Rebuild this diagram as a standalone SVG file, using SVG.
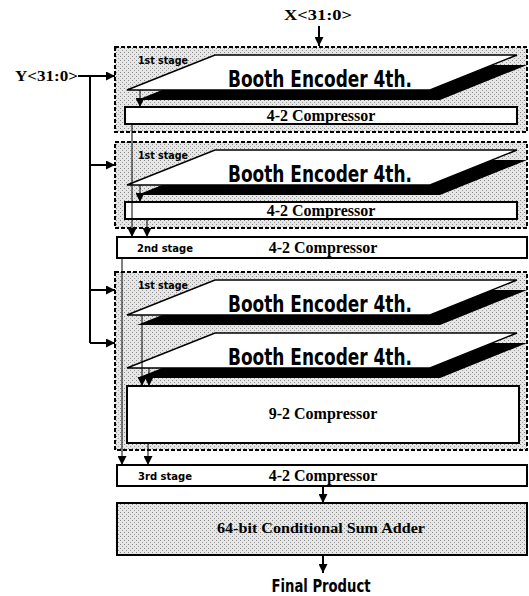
<svg xmlns="http://www.w3.org/2000/svg" width="529" height="596" viewBox="0 0 529 596">
<style>
.dash{fill:url(#stip);stroke:#000;stroke-width:2;stroke-dasharray:4 2}
.box{fill:#fff;stroke:#000;stroke-width:2}
.enc{fill:#fff;stroke:#000;stroke-width:1.5}
.shadow{fill:#000}
.ser{font-family:"Liberation Serif","Times New Roman",serif;font-weight:bold;fill:#000}
.cond{font-family:"Liberation Sans Narrow","DejaVu Sans Condensed","Liberation Sans",sans-serif;font-weight:bold;fill:#000}
.wire{fill:none;stroke:#000;stroke-width:2}
.thin{fill:none;stroke:#000;stroke-width:1}
</style>
<defs>
<pattern id="stip" width="4" height="4" patternUnits="userSpaceOnUse">
<rect width="4" height="4" fill="#e6e6e6"/>
<rect x="0" y="0" width="1" height="1" fill="#8a8a8a"/>
<rect x="2" y="2" width="1" height="1" fill="#a0a0a0"/>
</pattern>
<marker id="ah" viewBox="0 0 10 10" refX="10" refY="5" markerWidth="9" markerHeight="9" markerUnits="userSpaceOnUse" orient="auto">
<path d="M0,0 L10,5 L0,10 z" fill="#000"/>
</marker>
</defs>
<rect width="529" height="596" fill="#fff"/>

<g id="stage1a">
<rect class="dash" x="115" y="47" width="412" height="85"/>
<text class="cond" x="138" y="64" font-size="10" textLength="50" lengthAdjust="spacingAndGlyphs">1st stage</text>
<polygon class="shadow" points="225,65 527,65 440,100 137,100"/>
<polygon class="enc" points="215,55 517,55 430,90 127,90"/>
<text class="cond" x="228" y="87" font-size="23" textLength="184" lengthAdjust="spacingAndGlyphs">Booth Encoder 4th.</text>
<rect class="box" x="125" y="107" width="392" height="17"/>
<text class="ser" x="321" y="121" font-size="16" text-anchor="middle">4-2 Compressor</text>
</g>

<g id="stage1b">
<rect class="dash" x="115" y="142" width="412" height="86"/>
<text class="cond" x="138" y="159" font-size="10" textLength="50" lengthAdjust="spacingAndGlyphs">1st stage</text>
<polygon class="shadow" points="225,160 527,160 440,195 137,195"/>
<polygon class="enc" points="215,150 517,150 430,185 127,185"/>
<text class="cond" x="228" y="182" font-size="23" textLength="184" lengthAdjust="spacingAndGlyphs">Booth Encoder 4th.</text>
<rect class="box" x="125" y="202" width="392" height="17"/>
<text class="ser" x="321" y="216" font-size="16" text-anchor="middle">4-2 Compressor</text>
</g>

<g id="stage2">
<rect class="box" x="117" y="237" width="410" height="21"/>
<text class="cond" x="137" y="252" font-size="10" textLength="56" lengthAdjust="spacingAndGlyphs">2nd stage</text>
<text class="ser" x="323" y="253" font-size="16" text-anchor="middle">4-2 Compressor</text>
</g>

<g id="stage1c">
<rect class="dash" x="115" y="272" width="412" height="178"/>
<text class="cond" x="138" y="289" font-size="10" textLength="50" lengthAdjust="spacingAndGlyphs">1st stage</text>
<polygon class="shadow" points="225,290 527,290 440,325 137,325"/>
<polygon class="enc" points="215,280 517,280 430,315 127,315"/>
<text class="cond" x="228" y="312" font-size="23" textLength="184" lengthAdjust="spacingAndGlyphs">Booth Encoder 4th.</text>
<polygon class="shadow" points="225,343 527,343 440,378 137,378"/>
<polygon class="enc" points="215,333 517,333 430,368 127,368"/>
<text class="cond" x="228" y="365" font-size="23" textLength="184" lengthAdjust="spacingAndGlyphs">Booth Encoder 4th.</text>
<rect class="box" x="127" y="386" width="392" height="57"/>
<text class="ser" x="323" y="419" font-size="16" text-anchor="middle">9-2 Compressor</text>
</g>

<g id="stage3">
<rect class="box" x="117" y="465" width="410" height="21"/>
<text class="cond" x="138" y="480" font-size="10" textLength="54" lengthAdjust="spacingAndGlyphs">3rd stage</text>
<text class="ser" x="323" y="481" font-size="16" text-anchor="middle">4-2 Compressor</text>
</g>

<g id="adder">
<rect x="117" y="503" width="410" height="52" fill="url(#stip)" stroke="#000" stroke-width="2"/>
<text class="ser" x="321" y="533" font-size="15" text-anchor="middle" textLength="208" lengthAdjust="spacingAndGlyphs">64-bit Conditional Sum Adder</text>
</g>

<g id="labels">
<text class="ser" x="318" y="20" font-size="15" text-anchor="middle" textLength="68" lengthAdjust="spacingAndGlyphs">X&lt;31:0&gt;</text>
<text class="ser" x="15" y="81" font-size="15" textLength="63" lengthAdjust="spacingAndGlyphs">Y&lt;31:0&gt;</text>
<text class="cond" x="321" y="592" font-size="17" text-anchor="middle" textLength="99" lengthAdjust="spacingAndGlyphs">Final Product</text>
</g>

<g id="connectors">
<line class="wire" x1="319" y1="26" x2="319" y2="46" marker-end="url(#ah)"/>
<polyline class="wire" points="78,76 115,76" marker-end="url(#ah)"/>
<polyline class="wire" points="90,76 90,343"/>
<line class="wire" x1="90" y1="165" x2="115" y2="165" marker-end="url(#ah)"/>
<line class="wire" x1="90" y1="290" x2="115" y2="290" marker-end="url(#ah)"/>
<line class="wire" x1="90" y1="343" x2="115" y2="343" marker-end="url(#ah)"/>
<line class="thin" x1="140" y1="90" x2="140" y2="107" marker-end="url(#ah)"/>
<line class="thin" x1="140" y1="185" x2="140" y2="202" marker-end="url(#ah)"/>
<line class="thin" x1="132" y1="124" x2="132" y2="237" marker-end="url(#ah)"/>
<line class="thin" x1="147" y1="219" x2="147" y2="237" marker-end="url(#ah)"/>
<line class="thin" x1="122" y1="258" x2="122" y2="465" marker-end="url(#ah)"/>
<line class="thin" x1="142" y1="315" x2="142" y2="386" marker-end="url(#ah)"/>
<line class="thin" x1="149" y1="368" x2="149" y2="386" marker-end="url(#ah)"/>
<line class="thin" x1="148" y1="443" x2="148" y2="465" marker-end="url(#ah)"/>
<line class="wire" x1="323" y1="486" x2="323" y2="503" marker-end="url(#ah)"/>
<line class="wire" x1="323" y1="555" x2="323" y2="573" marker-end="url(#ah)"/>
</g>
</svg>
